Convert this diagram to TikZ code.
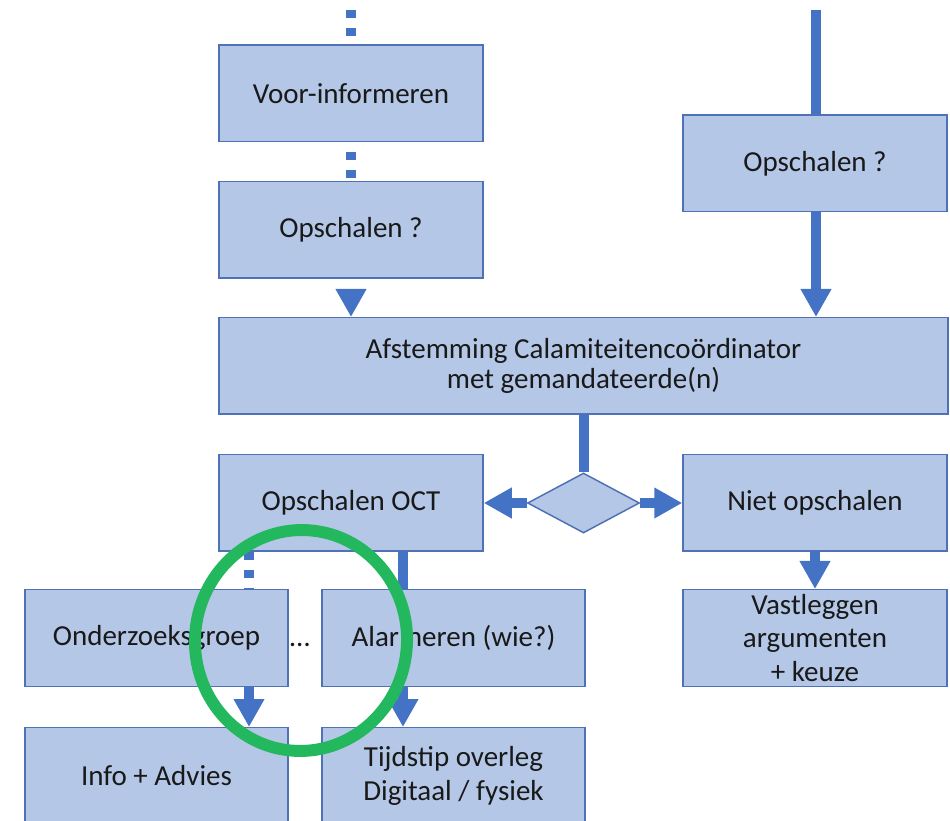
\documentclass[tikz,border=0pt]{standalone}
\usepackage{fontspec}
\setmainfont{Carlito}
\usetikzlibrary{arrows.meta,shapes.geometric,calc}
\definecolor{boxfill}{HTML}{B4C7E7}
\definecolor{boxline}{HTML}{4F71B5}
\definecolor{linkblue}{HTML}{4472C4}
\definecolor{ringgreen}{HTML}{24B85E}
\tikzset{
    box/.style ={
        rectangle,
        minimum width =5.28cm,
        minimum height =1.93cm,
        inner sep=1pt,
        align=center,
        fill=boxfill,
        draw=boxline,
        line width=0.85pt,
        text=black!90,
        font=\fontsize{16.5pt}{19pt}\selectfont
    },
    choice/.style ={
        diamond,
        aspect=1.87,
        minimum width =2.24cm,
        minimum height =1.2cm,
        inner sep=0pt,
        fill=boxfill,
        draw=boxline,
        line width=0.85pt
    },
    link/.style ={draw=linkblue, line width=5.7pt},
    linkarrow/.style ={link, -{Triangle[length=0.56cm,width=0.58cm]}},
    dots/.style ={link, dash pattern=on 0.16cm off 0.2cm},
    ring/.style ={draw=ringgreen, line width=6.8pt}
}
\begin{document}
\begin{tikzpicture}
        \useasboundingbox (0,0) rectangle (19,16.4);
        \node[box] (VOOR) at(7.02,14.53) {Voor-informeren};
        \node[box] (OPSCH1) at(7.02,11.80) {Opschalen ?};
        \node[box] (OPSCH2) at(16.30,13.13) {Opschalen ?};
        \node[box, minimum width=14.58cm] (AFST) at(11.67,9.08) {Afstemming Calamiteitencoördinator\\[-1.5pt]met gemandateerde(n)};
        \node[box] (OCT) at(7.02,6.34) {Opschalen OCT};
        \node[choice] (DEC) at(11.67,6.34) {};
        \node[box] (NIET) at(16.30,6.34) {Niet opschalen};
        \node[box] (VAST) at(16.30,3.64) {Vastleggen\\argumenten\\+ keuze};
        \node[box, minimum width=5.26cm] (ONDZ) at(3.13,3.64) {Onderzoeksgroep};
        \node[box, minimum width=5.26cm] (ALARM) at(9.07,3.64) {Alarmeren (wie?)};
        \node[box, minimum width=5.26cm] (INFO) at(3.13,0.88) {Info + Advies};
        \node[box, minimum width=5.26cm] (TIJD) at(9.07,0.88) {Tijdstip overleg\\Digitaal / fysiek};
        \node[anchor=base, xshift=-0.1cm, text=black!90, font=\fontsize{16.5pt}{19pt}\selectfont] (MORE) at($(ONDZ.base east)!0.5!(ALARM.base west)$) {…};
        \coordinate (INL) at(7.02,16.2);
        \coordinate (INR) at(16.32,16.2);
        \draw[dots] (INL)--(VOOR);
        \draw[dots, dash phase=0.16cm] (VOOR)--(OPSCH1);
        \draw[dots, dash phase=0.16cm, -{Triangle[length=0.56cm,width=0.58cm]}] (OPSCH1.south)--(OPSCH1.south |- AFST.north);
        \draw[link] (INR)--(INR |- OPSCH2.north);
        \draw[linkarrow] (INR |- OPSCH2.south)--(INR |- AFST.north);
        \draw[link] (AFST)--(DEC);
        \draw[linkarrow] (DEC)--(OCT);
        \draw[linkarrow] (DEC)--(NIET);
        \draw[linkarrow] (NIET)--(VAST);
        \draw[dots] ([xshift=-2.04cm]OCT.south)--([xshift=-2.04cm]OCT.south |- ONDZ.north);
        \draw[link] ([xshift=1.04cm]OCT.south)--([xshift=1.04cm]OCT.south |- ALARM.north);
        \draw[linkarrow] ([xshift=1.85cm]ONDZ.south)--([xshift=1.85cm]ONDZ.south |- INFO.north);
        \draw[linkarrow] ([xshift=-1.01cm]ALARM.south)--([xshift=-1.01cm]ALARM.south |- TIJD.north);
        \draw[ring, rotate around={-6:(6.02,3.59)}] (6.02,3.59) ellipse [x radius=2.12cm, y radius=2.21cm];
    \end{tikzpicture}
\end{document}
